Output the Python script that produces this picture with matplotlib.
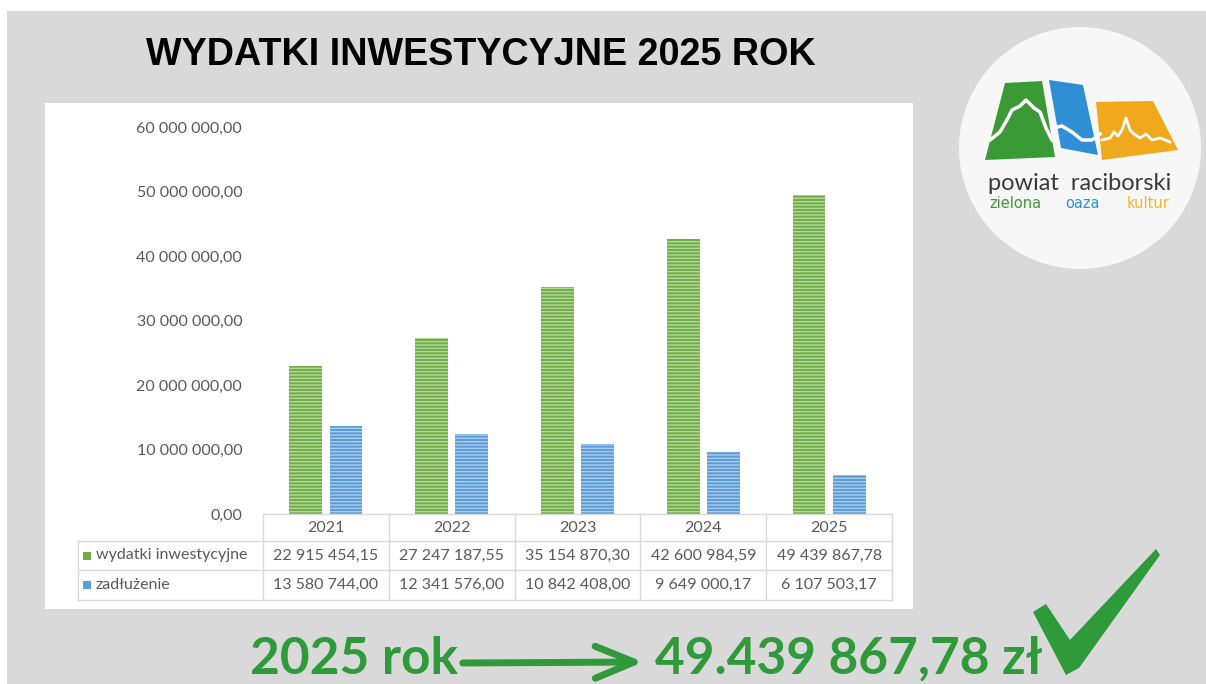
import matplotlib.pyplot as plt
from matplotlib.patches import Rectangle, Circle, Polygon

# data
years = ['2021', '2022', '2023', '2024', '2025']
wydatki = [22915454.15, 27247187.55, 35154870.30, 42600984.59, 49439867.78]
zadluzenie = [13580744.00, 12341576.00, 10842408.00, 9649000.17, 6107503.17]
series_names = ['wydatki inwestycyjne', 'zadłużenie']
yticks = [0, 10000000, 20000000, 30000000, 40000000, 50000000, 60000000]

W, H = 1206, 684
GREEN = '#70ad47'
BLUE = '#5b9bd5'
TXT = '#595959'
GRID = '#d9d9d9'
DARKGREEN = '#2e9a3a'


def pl(v):
    return f"{v:,.2f}".replace(',', ' ').replace('.', ',')


fig = plt.figure(figsize=(W / 100, H / 100), dpi=100, facecolor='white')

# background axes in pixel coordinates
bg = fig.add_axes([0, 0, 1, 1], zorder=0)
bg.set_xlim(0, W)
bg.set_ylim(H, 0)
bg.axis('off')
bg.add_patch(Rectangle((7, 11), W - 7, H - 11, color='#d9d9d9', lw=0))
bg.add_patch(Rectangle((45, 103), 868, 506, color='white', lw=0))

bg.text(481, 55, 'WYDATKI INWESTYCYJNE 2025 ROK', fontsize=27.2, fontweight='bold',
        family='Liberation Sans', ha='center', va='center', color='black')

# logo
bg.add_patch(Circle((1080, 148), 121, color='#f7f7f7', lw=0))
bg.add_patch(Polygon([(1005, 83), (1042, 81), (1055, 157), (985, 160)], color='#3a9a35', lw=0))
bg.add_patch(Polygon([(1049, 80), (1083, 85), (1098, 155), (1061, 148)], color='#2f8fd4', lw=0))
bg.add_patch(Polygon([(1096, 102), (1153, 101), (1178, 150), (1102, 160)], color='#f0a81c', lw=0))
bg.plot([990, 1000, 1008, 1012, 1020, 1026, 1034, 1040, 1046, 1052],
        [140, 132, 118, 110, 106, 100, 108, 112, 128, 140], color='white', lw=2.5)
bg.plot([1052, 1062, 1072, 1082, 1092, 1100], [128, 126, 132, 140, 140, 134], color='white', lw=2.5)
bg.plot([1102, 1110, 1114, 1118, 1122, 1126, 1130, 1134, 1140, 1146, 1152, 1160, 1170],
        [140, 138, 132, 136, 130, 118, 130, 134, 138, 134, 140, 138, 142], color='white', lw=2)
bg.text(1080, 183, 'powiat  raciborski', fontsize=17, family='Lato', ha='center', va='center',
        color='#3a3a3a')
bg.text(1015, 204, 'zielona', fontsize=10.5, family='DejaVu Sans', ha='center', va='center',
        color='#3a9a35')
bg.text(1082, 204, 'oaza', fontsize=10.5, family='DejaVu Sans', ha='center', va='center',
        color='#2f8fd4')
bg.text(1148, 204, 'kultur', fontsize=10.5, family='DejaVu Sans', ha='center', va='center',
        color='#f0b820')

# bottom line
bg.text(250, 659, '2025 rok', fontsize=37, fontweight='bold', family='Lato', ha='left',
        va='center', color=DARKGREEN)
bg.annotate('', xy=(646, 662), xytext=(460, 663),
            arrowprops=dict(arrowstyle='->,head_length=2.8,head_width=1.15', lw=5,
                            color=DARKGREEN))
bg.text(655, 659, '49.439 867,78 zł', fontsize=37, fontweight='bold', family='Lato',
        ha='left', va='center', color=DARKGREEN)
bg.add_patch(Polygon([(1033, 612), (1046, 604), (1070, 640), (1156, 549), (1160, 555),
                      (1079, 668), (1066, 675)], color=DARKGREEN, lw=0))

# main chart
ax = fig.add_axes([263 / W, 1 - 514 / H, 629 / W, 387 / H], zorder=1)
ax.set_facecolor('none')
x = list(range(len(years)))
ax.bar([i - 0.16 for i in x], wydatki, width=0.26, color=GREEN, edgecolor='#b5d99c',
       hatch='-----', lw=0)
ax.bar([i + 0.16 for i in x], zadluzenie, width=0.26, color=BLUE, edgecolor='#a9cdee',
       hatch='-----', lw=0)
ax.set_xlim(-0.5, 4.5)
ax.set_ylim(0, 60000000)
ax.set_yticks(yticks)
ax.set_yticklabels([pl(v) for v in yticks], family='Lato', fontsize=11.5, color=TXT)
ax.tick_params(axis='y', length=0, pad=15)
ax.set_xticks([])
for s in ax.spines.values():
    s.set_visible(False)

# data table below the axes
tr = ax.get_xaxis_transform()
px = 629 / 5


def fyax(py):
    return (514 - py) / 387


def dx(pxl):
    return (pxl - 263) / px - 0.5


left = dx(78)
rows = [514, 541, 570, 600]
ax.plot([-0.5, 4.5], [fyax(514)] * 2, color=GRID, lw=1, transform=tr, clip_on=False)
for r in rows[1:]:
    ax.plot([left, 4.5], [fyax(r)] * 2, color=GRID, lw=1, transform=tr, clip_on=False)
for b in [-0.5, 0.5, 1.5, 2.5, 3.5, 4.5]:
    ax.plot([b, b], [fyax(514), fyax(600)], color=GRID, lw=1, transform=tr, clip_on=False)
ax.plot([left, left], [fyax(541), fyax(600)], color=GRID, lw=1, transform=tr, clip_on=False)

for i, yr in enumerate(years):
    ax.text(i, fyax(527.5), yr, transform=tr, ha='center', va='center', family='Lato',
            fontsize=11.5, color=TXT)
    ax.text(i, fyax(555.5), pl(wydatki[i]), transform=tr, ha='center', va='center',
            family='Lato', fontsize=11.5, color=TXT)
    ax.text(i, fyax(585), pl(zadluzenie[i]), transform=tr, ha='center', va='center',
            family='Lato', fontsize=11.5, color=TXT)

for name, col, py in [(series_names[0], GREEN, 555.5), (series_names[1], BLUE, 585)]:
    ax.add_patch(Rectangle((dx(83), fyax(py + 4)), dx(91) - dx(83), 8 / 387, transform=tr,
                           color=col, clip_on=False, lw=0))
    ax.text(dx(96), fyax(py), name, transform=tr, ha='left', va='center', family='Lato',
            fontsize=11.5, color=TXT)

fig.savefig('out.png', dpi=100, facecolor='white')
